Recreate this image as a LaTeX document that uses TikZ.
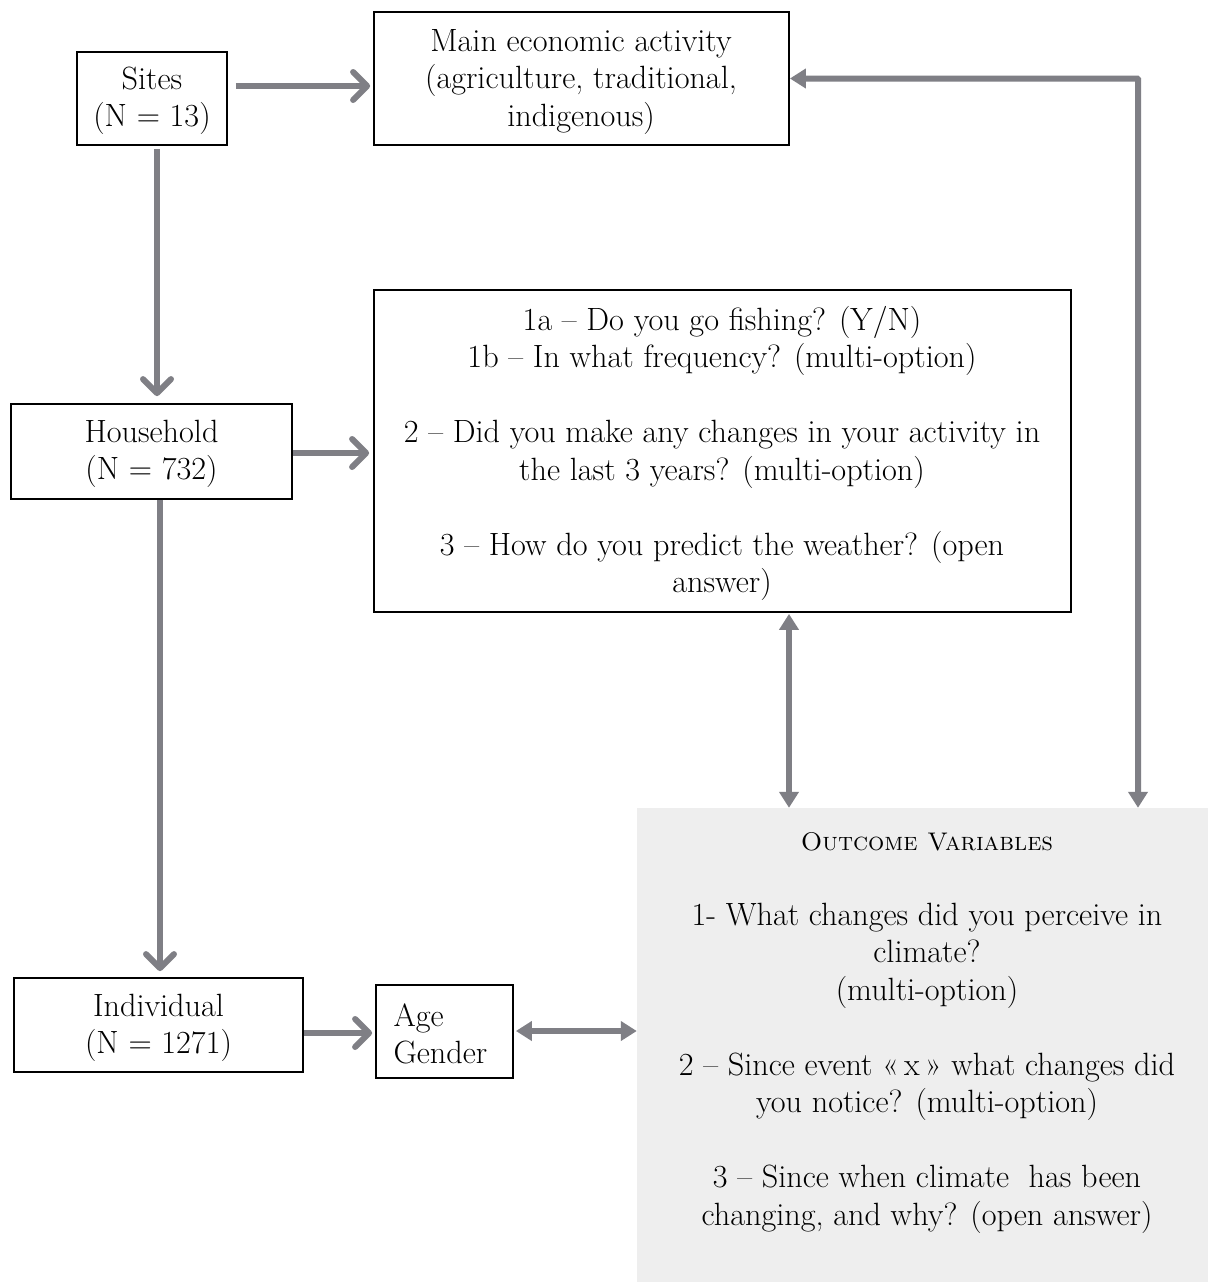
\documentclass[tikz,border=0pt]{standalone}
\usetikzlibrary{arrows.meta,calc}
\definecolor{arrgray}{RGB}{127,127,133}
\definecolor{outfill}{RGB}{238,238,238}
\begin{document}
\begin{tikzpicture}[x=1pt,y=-1pt,
  box/.style={draw=black,line width=1.8pt,inner sep=0pt},
  txt/.style={font=\fontsize{32.2}{37.5}\selectfont},
  sarr/.style={draw=arrgray,line width=6pt,-{Straight Barb[length=14pt,width=28pt,line cap=round,line join=round]}},
  darr/.style={draw=arrgray,line width=6pt,{Triangle[length=16pt,width=19pt]}-{Triangle[length=16pt,width=19pt]}}
]
\useasboundingbox (0,0) rectangle (1208,1282);
\fill[white] (0,0) rectangle (1208,1282);
% outcome area
\node[fill=outfill,minimum width=571pt,minimum height=474pt,inner sep=0pt] (out) at (922.5,1045) {};
\node[txt,align=center] (outtxt) at (927,1033) {{\fontsize{25.5}{37.5}\selectfont\textsc{Outcome Variables}}\\[37.5pt]
1- What changes did you perceive in\\ climate?\\ (multi-option)\\[37.5pt]
2 -- Since event \guillemotleft\,x\,\guillemotright{} what changes did\\ you notice? (multi-option)\\[37.5pt]
3 -- Since when climate\ \ has been\\ changing, and why? (open answer)};
% boxes
\node[box,minimum width=150pt,minimum height=93pt] (sites) at (152,98.5) {};
\node[txt,align=center] (sitestxt) at (152,101) {Sites\\(N = 13)};
\node[box,minimum width=415pt,minimum height=133pt] (main) at (581.5,78.5) {};
\node[txt,align=center] (maintxt) at (581,82) {Main economic activity\\(agriculture, traditional,\\indigenous)};
\node[box,minimum width=281pt,minimum height=95pt] (house) at (151.5,451.5) {};
\node[txt,align=center] (housetxt) at (151.5,454) {Household\\(N = 732)};
\node[box,minimum width=697pt,minimum height=322pt] (q) at (722.5,451) {};
\node[txt,align=center] (qtxt) at (722,453.5) {1a -- Do you go fishing? (Y/N)\\ 1b -- In what frequency? (multi-option)\\[37.5pt]
2 -- Did you make any changes in your activity in\\ the last 3 years? (multi-option)\\[37.5pt]
3 -- How do you predict the weather? (open\\ answer)};
\node[box,minimum width=289pt,minimum height=94pt] (ind) at (158.5,1025) {};
\node[txt,align=center] (indtxt) at (158.5,1028) {Individual\\(N = 1271)};
\node[box,minimum width=137pt,minimum height=93pt] (age) at (444.5,1031.5) {};
\node[txt,align=left,anchor=west] (agetxt) at (390,1034) {Age\\Gender};
% coordinates for connector rows/columns
\coordinate (r1) at (0,86);
\coordinate (c1) at (157,0);
\coordinate (r2) at (0,453);
\coordinate (c2) at (160,0);
\coordinate (r3) at (0,1033);
\coordinate (r4) at (0,1031);
\coordinate (c3) at (789,0);
\coordinate (c4) at (1138,0);
% connectors
\draw[sarr] ($(sites.east |- r1)+(8,0)$) -- ($(main.west |- r1)+(-3,0)$);
\draw[sarr] ($(sites.south -| c1)+(0,3)$) -- ($(house.north -| c1)+(0,-7)$);
\draw[sarr] (house.east |- r2) -- ($(q.west |- r2)+(-4,0)$);
\draw[sarr] (house.south -| c2) -- ($(ind.north -| c2)+(0,-6)$);
\draw[sarr] (ind.east |- r3) -- ($(age.west |- r3)+(-3,0)$);
\draw[darr] ($(age.east |- r4)+(2,0)$) -- (out.west |- r4);
\draw[darr] ($(q.south -| c3)+(0,1)$) -- (out.north -| c3);
\draw[darr,rounded corners=1pt] (main.east) -| (out.north -| c4);
\end{tikzpicture}
\end{document}
